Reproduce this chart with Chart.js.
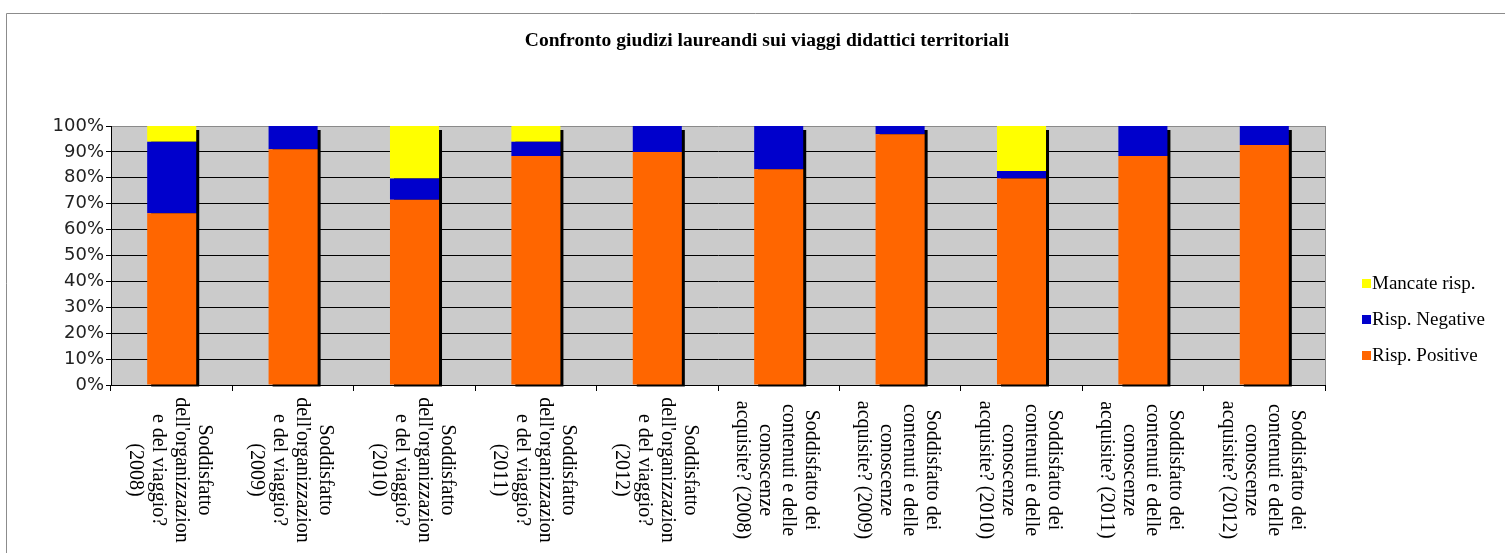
<!DOCTYPE html>
<html><head><meta charset="utf-8">
<script src="https://cdn.jsdelivr.net/npm/chart.js@4.4.1/dist/chart.umd.min.js"></script>
<style>html,body{margin:0;padding:0;background:#fff;}#wrap{position:relative;width:1505px;height:553px;}</style>
</head><body><div id="wrap"><canvas id="c" width="1505" height="553"></canvas></div>
<script>
const chartTitle = 'Confronto giudizi laureandi sui viaggi didattici territoriali';
const categories = [
  ['Soddisfatto', "dell'organizzazion", 'e del viaggio?', '(2008)'],
  ['Soddisfatto', "dell'organizzazion", 'e del viaggio?', '(2009)'],
  ['Soddisfatto', "dell'organizzazion", 'e del viaggio?', '(2010)'],
  ['Soddisfatto', "dell'organizzazion", 'e del viaggio?', '(2011)'],
  ['Soddisfatto', "dell'organizzazion", 'e del viaggio?', '(2012)'],
  ['Soddisfatto dei', 'contenuti e delle', 'conoscenze', 'acquisite? (2008)'],
  ['Soddisfatto dei', 'contenuti e delle', 'conoscenze', 'acquisite? (2009)'],
  ['Soddisfatto dei', 'contenuti e delle', 'conoscenze', 'acquisite? (2010)'],
  ['Soddisfatto dei', 'contenuti e delle', 'conoscenze', 'acquisite? (2011)'],
  ['Soddisfatto dei', 'contenuti e delle', 'conoscenze', 'acquisite? (2012)']
];
const seriesNames = ['Risp. Positive', 'Risp. Negative', 'Mancate risp.'];
const seriesColors = ['#FF6600', '#0000CC', '#FFFF00'];
const positive = [66.3, 91.0, 71.5, 88.4, 90.0, 83.3, 96.8, 79.7, 88.4, 92.7];
const negative = [27.6, 9.0, 8.2, 5.5, 10.0, 16.7, 3.2, 2.9, 11.6, 7.3];
const missing  = [6.1, 0, 20.3, 6.1, 0, 0, 0, 17.4, 0, 0];
const yTickLabels = ['0%','10%','20%','30%','40%','50%','60%','70%','80%','90%','100%'];

const decor = {
  id: 'decor',
  beforeDraw(chart) {
    const {ctx, chartArea: a} = chart;
    ctx.save();
    ctx.fillStyle = '#fff';
    ctx.fillRect(0, 0, chart.width, chart.height);
    ctx.strokeStyle = '#8c8c8c';
    ctx.lineWidth = 1;
    ctx.beginPath();
    ctx.moveTo(6.5, chart.height);
    ctx.lineTo(6.5, 13.5);
    ctx.lineTo(chart.width, 13.5);
    ctx.stroke();
    ctx.fillStyle = '#CBCBCB';
    ctx.fillRect(a.left, a.top, a.right - a.left, a.bottom - a.top);
    ctx.strokeStyle = '#8a8a8a';
    ctx.beginPath();
    const rx = Math.round(a.right) + 0.5;
    ctx.moveTo(rx, a.top);
    ctx.lineTo(rx, a.bottom);
    ctx.stroke();
    ctx.restore();
  },
  beforeDatasetsDraw(chart) {
    const ctx = chart.ctx;
    const metas = chart.getSortedVisibleDatasetMetas();
    const n = chart.data.labels.length;
    ctx.save();
    ctx.fillStyle = '#000';
    for (let i = 0; i < n; i++) {
      let top = Infinity, base = -Infinity, x = 0, w = 0;
      metas.forEach(m => {
        const el = m.data[i];
        if (!el) return;
        const p = el.getProps(['x', 'y', 'base', 'width'], true);
        top = Math.min(top, p.y, p.base);
        base = Math.max(base, p.y, p.base);
        x = p.x; w = p.width;
      });
      ctx.fillRect(x - w / 2 + 4, top + 4, w - 1, base - top - 2);
    }
    ctx.restore();
  },
  afterDraw(chart) {
    const ctx = chart.ctx;
    // title
    ctx.save();
    ctx.fillStyle = '#000';
    ctx.font = 'bold 18px "Liberation Serif"';
    ctx.textAlign = 'center';
    ctx.textBaseline = 'alphabetic';
    ctx.translate(767, 46);
    ctx.scale(1.085, 1);
    ctx.fillText(chartTitle, 0, 0);
    ctx.restore();
    // legend (reversed order)
    ctx.save();
    ctx.font = '19px "Liberation Serif"';
    ctx.textAlign = 'left';
    ctx.textBaseline = 'alphabetic';
    const ds = chart.data.datasets;
    for (let k = 0; k < ds.length; k++) {
      const d = ds[ds.length - 1 - k];
      const cy = 283 + k * 36;
      ctx.fillStyle = d.backgroundColor;
      ctx.fillRect(1362, cy - 4, 9, 9);
      ctx.fillStyle = '#000';
      ctx.fillText(d.label, 1372, cy + 6);
    }
    ctx.restore();
    // x labels rotated (top to bottom)
    const xs = chart.scales.x;
    ctx.save();
    ctx.fillStyle = '#000';
    ctx.font = '20px "Liberation Serif"';
    ctx.textAlign = 'center';
    ctx.textBaseline = 'middle';
    categories.forEach((lines, i) => {
      const cx = xs.getPixelForValue(i) - 2;
      const m = lines.length;
      lines.forEach((ln, j) => {
        const lx = cx + ((m - 1) / 2 - j) * 23;
        ctx.save();
        ctx.translate(lx, 470);
        ctx.rotate(Math.PI / 2);
        ctx.fillText(ln, 0, 0);
        ctx.restore();
      });
    });
    ctx.restore();
  }
};

new Chart(document.getElementById('c'), {
  type: 'bar',
  data: {
    labels: categories.map(c => c.join(' ')),
    datasets: [
      {label: seriesNames[0], data: positive, backgroundColor: seriesColors[0]},
      {label: seriesNames[1], data: negative, backgroundColor: seriesColors[1]},
      {label: seriesNames[2], data: missing, backgroundColor: seriesColors[2]}
    ]
  },
  options: {
    responsive: false,
    animation: false,
    devicePixelRatio: 1,
    layout: {padding: {left: 0, right: 180, top: 126, bottom: 0}},
    datasets: {bar: {barPercentage: 0.404, categoryPercentage: 1.0, borderWidth: 0}},
    plugins: {legend: {display: false}, title: {display: false}, tooltip: {enabled: false}},
    scales: {
      x: {
        stacked: true,
        ticks: {display: false},
        grid: {drawOnChartArea: false, drawTicks: true, tickLength: 6, color: '#000', offset: true},
        border: {color: '#000'},
        afterFit: s => { s.height = 168; }
      },
      y: {
        stacked: true,
        min: 0, max: 100,
        ticks: {stepSize: 10, callback: v => yTickLabels[Math.round(v / 10)], font: {family: 'DejaVu Sans', size: 18}, color: '#222', padding: 2},
        grid: {color: c => (c.tick && c.tick.value === 100) ? '#8a8a8a' : '#000', tickColor: '#000', tickLength: 5, lineWidth: 1},
        border: {color: '#000'},
        afterFit: s => { s.width = 111; }
      }
    }
  },
  plugins: [decor]
});
</script>
</body></html>
